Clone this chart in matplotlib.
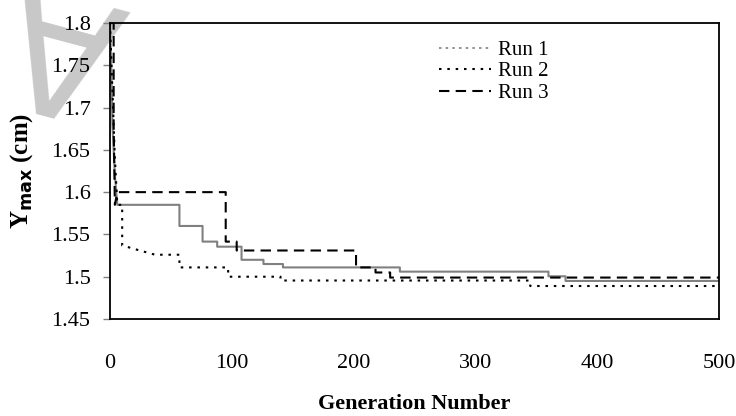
import matplotlib
matplotlib.use('Agg')
import matplotlib.pyplot as plt
from matplotlib.lines import Line2D

# generation numbers / best Ymax (cm) (step curves)
run1_x = [0, 1, 2, 4, 6, 57, 57, 76, 76, 88, 88, 108, 108, 126, 126, 142, 142, 238, 238, 360, 360, 374, 374, 500]
run1_y = [1.80, 1.75, 1.68, 1.62, 1.585, 1.585, 1.56, 1.56, 1.5415, 1.5415, 1.5355, 1.5355, 1.52, 1.52,
          1.515, 1.515, 1.511, 1.511, 1.506, 1.506, 1.5005, 1.5005, 1.495, 1.495]

run2_x = [0, 2, 4, 6, 10, 10, 22, 37, 57, 57, 97, 97, 140, 140, 345, 345, 500]
run2_y = [1.80, 1.72, 1.64, 1.585, 1.585, 1.537, 1.532, 1.526, 1.526, 1.511, 1.511, 1.50, 1.50,
          1.4955, 1.4955, 1.489, 1.489]

run3_x = [0, 3, 3, 4, 6, 95, 95, 104, 104, 202, 202, 218, 218, 230, 230, 500]
run3_y = [1.80, 1.80, 1.68, 1.585, 1.60, 1.60, 1.5415, 1.5415, 1.531, 1.531, 1.511, 1.511,
          1.505, 1.505, 1.499, 1.499]

x_ticks = [0, 100, 200, 300, 400, 500]
y_ticks = [1.45, 1.5, 1.55, 1.6, 1.65, 1.7, 1.75, 1.8]
y_labels = ['1.45', '1.5', '1.55', '1.6', '1.65', '1.7', '1.75', '1.8']

plt.rcParams['font.family'] = ['Liberation Serif', 'DejaVu Serif']

fig = plt.figure(figsize=(7.36, 4.16), dpi=100)
ax = fig.add_axes([110 / 736, 1 - 319 / 416, 609 / 736, 296 / 416])
ax.set_zorder(2)

# watermark fragment in the corner
fig.text(0.085, 0.90, 'A', fontsize=120, color='#c8c8c8', rotation=165,
         family='DejaVu Sans', ha='center', va='center', zorder=0)

ax.plot(run1_x, run1_y, color='#808080', linewidth=1.5, linestyle='-')
ax.plot(run2_x, run2_y, color='black', linewidth=1.5, linestyle=(0, (1.2, 2.8)))
ax.plot(run3_x, run3_y, color='black', linewidth=1.5, linestyle=(0, (5, 3)))

ax.set_xlim(0, 500)
ax.set_ylim(1.45, 1.8)
ax.set_xticks(x_ticks)
ax.set_yticks(y_ticks)
ax.set_yticklabels(y_labels)
ax.patch.set_alpha(0)
ax.tick_params(axis='y', direction='out', length=5, width=1, color='#808080', labelsize=16, pad=9)
ax.tick_params(axis='x', length=0, labelsize=16, pad=25)
for s in ax.spines.values():
    s.set_linewidth(1.3)
    s.set_color('black')

ax.set_xlabel('Generation Number', fontsize=16, fontweight='bold', labelpad=15)
ax.set_ylabel(r'Y$_{\mathbf{max}}$ (cm)', fontsize=18, fontweight='bold', labelpad=12)

handles = [
    Line2D([], [], color='#808080', linewidth=1.2, linestyle=(0, (1.5, 2.5))),
    Line2D([], [], color='black', linewidth=1.5, linestyle=(0, (1.2, 2.8))),
    Line2D([], [], color='black', linewidth=1.5, linestyle=(0, (5, 3))),
]
ax.legend(handles, ['Run 1', 'Run 2', 'Run 3'], loc='upper left', bbox_to_anchor=(0.527, 0.97),
          frameon=False, fontsize=15, handlelength=2.5, handletextpad=0.3, labelspacing=0.1,
          borderaxespad=0)

fig.savefig('out.png', dpi=100)
